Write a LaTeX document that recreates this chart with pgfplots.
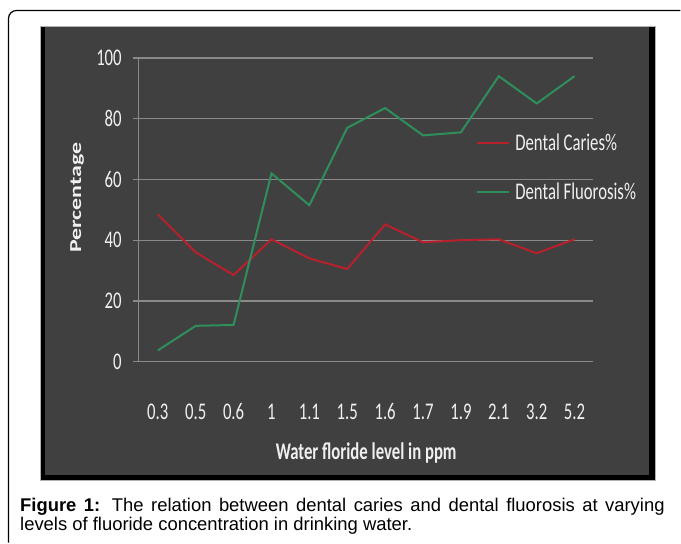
\documentclass[border=0pt]{standalone}
\usepackage{pgfplots}
\pgfplotsset{compat=1.18}
\usepackage{fontspec}
\setmainfont{Liberation Sans}
\newfontfamily\calibri{Carlito}
\definecolor{panel}{HTML}{404040}
\definecolor{gridc}{HTML}{8A8A8A}
\definecolor{txt}{HTML}{F0F0F0}
\definecolor{caries}{HTML}{B8202C}
\definecolor{fluor}{HTML}{2F8F5B}
\newcommand\sq[1]{\scalebox{0.7}[1]{#1}}
\begin{document}
\begin{tikzpicture}[x=1bp,y=1bp]
\path (0,0) rectangle (681,543);
\draw[line width=1.2bp] (8.5,0) -- (8.5,524.5) arc[start angle=180,end angle=90,radius=8] -- (681,532.5);
\fill[gray!60] (40,62) rectangle (656.5,517);
\fill[black] (41,63) rectangle (655.5,516);
\fill[panel] (45.5,68) rectangle (650,516);
\begin{axis}[at={(139bp,181bp)}, anchor=south west, width=455bp, height=304bp, scale only axis,
  xmin=-0.5, xmax=11.5, ymin=0, ymax=100,
  axis x line*=bottom, axis y line*=left,
  axis line style={-, gridc, line width=1.2bp},
  ytick={0,20,...,100}, ymajorgrids, grid style={gridc, line width=1.2bp},
  ytick style={gridc, line width=1.2bp}, major tick length=6bp, tick align=outside,
  xtick={0,...,11}, xtick style={draw=none},
  xticklabels={\sq{0.3},\sq{0.5},\sq{0.6},\sq{1},\sq{1.1},\sq{1.5},\sq{1.6},\sq{1.7},\sq{1.9},\sq{2.1},\sq{3.2},\sq{5.2}},
  yticklabels={\sq{0},\sq{20},\sq{40},\sq{60},\sq{80},\sq{100}},
  ticklabel style={font=\calibri\fontsize{24}{24}\selectfont, text=txt},
  xticklabel style={anchor=center, yshift=-44bp},
  yticklabel style={anchor=east, inner sep=0pt, xshift=-11bp},
  xlabel={\sq{\bfseries Water floride level in ppm}},
  xlabel style={at={(rel axis cs:0.5,-0.30)}, anchor=center, font=\calibri\fontsize{24}{24}\selectfont, text=txt},
  ylabel={\scalebox{1}[0.7]{\bfseries Percentage}},
  ylabel style={at={(rel axis cs:-0.136,0.54)}, anchor=center, rotate=0, font=\calibri\fontsize{24}{24}\selectfont, text=txt},
  legend style={at={(rel axis cs:0.742,0.755)}, anchor=north west, draw=none, fill=none,
    font=\calibri\fontsize{24}{24}\selectfont, text=txt, inner sep=0pt, row sep=29bp,
    nodes={inner xsep=0bp, inner ysep=1bp}},
  legend cell align=left,
  legend image code/.code={\draw[#1, line width=2bp] (0bp,0bp) -- (32bp,0bp);},
]
\addplot[caries, line width=2bp] coordinates {(0,48.5) (1,36) (2,28.5) (3,40.3) (4,34) (5,30.5) (6,45.2) (7,39.3) (8,40) (9,40.3) (10,35.7) (11,40.3)};
\addlegendentry{\hspace{5bp}\sq{Dental Caries\%}}
\addplot[fluor, line width=2bp] coordinates {(0,3.7) (1,11.8) (2,12.1) (3,62) (4,51.5) (5,77) (6,83.5) (7,74.5) (8,75.5) (9,94) (10,85) (11,94)};
\addlegendentry{\hspace{5bp}\sq{Dental Fluorosis\%}}
\end{axis}
\node[anchor=north west, inner sep=0pt, text width=645bp, align=justify, font=\fontsize{18.5}{18.5}\selectfont] at (20,44.5)
  {\textbf{Figure 1:} The relation between dental caries and dental fluorosis at varying\linebreak levels of fluoride concentration in drinking water.};
\end{tikzpicture}
\end{document}
